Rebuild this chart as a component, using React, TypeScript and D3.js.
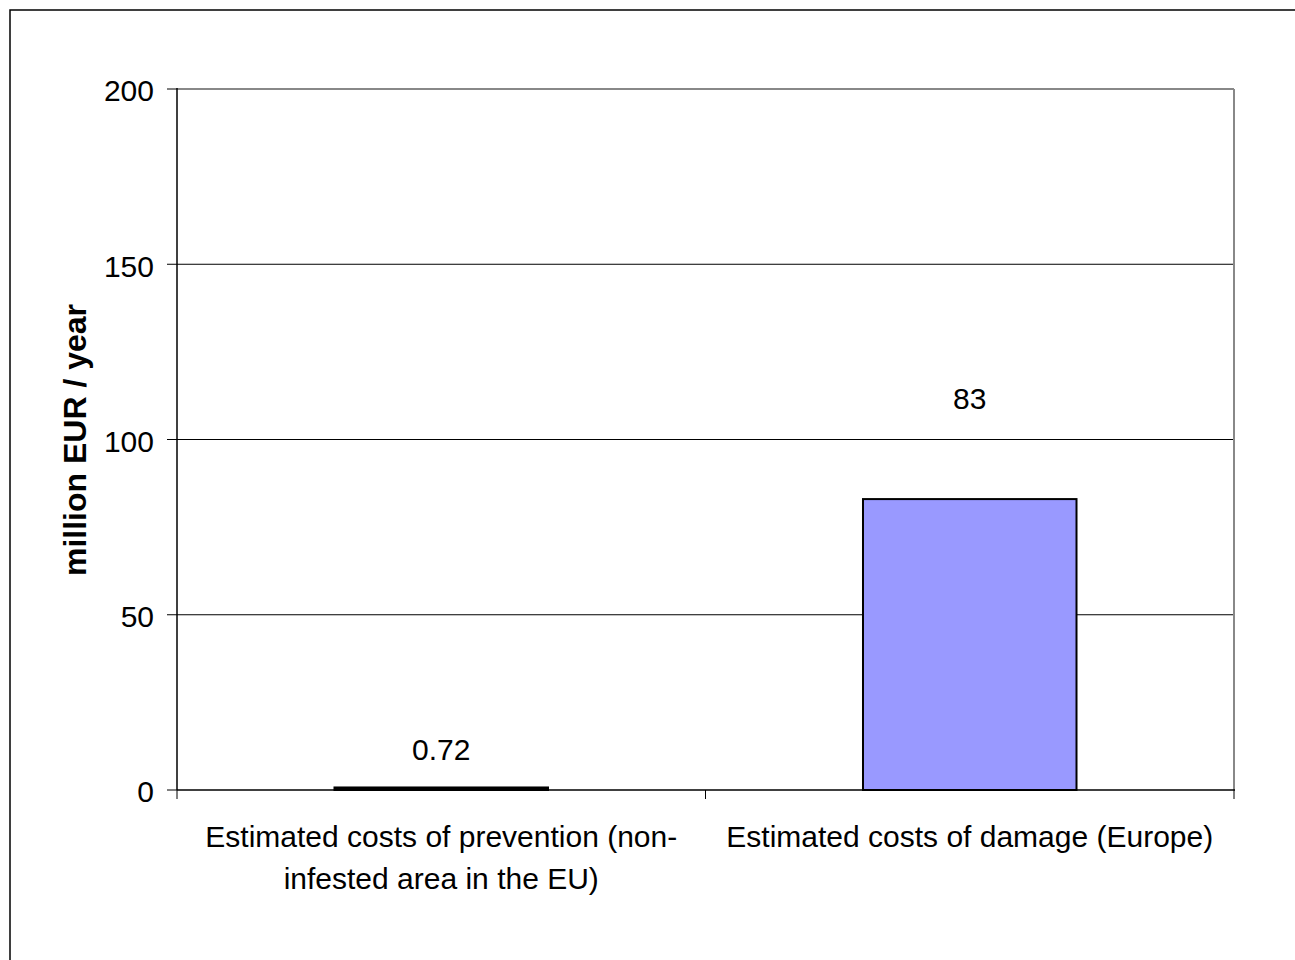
import React from "react";
import * as d3 from "d3";

const categories = [
  ["Estimated costs of prevention (non-", "infested area in the EU)"],
  ["Estimated costs of damage (Europe)"],
];
const values = [0.72, 83];
const valueLabels = ["0.72", "83"];
const yTicks = [0, 50, 100, 150, 200];
const yTitle = "million EUR / year";

export default function App() {
  const W = 1295, H = 960;
  const left = 177, right = 1234, top = 89, bottom = 790;
  const x = d3.scaleBand<number>().domain(values.map((_, i) => i)).range([left, right]).paddingInner(0).paddingOuter(0);
  const y = d3.scaleLinear().domain([0, 200]).range([bottom, top]);
  const bw = x.bandwidth() * 0.404;
  const font = "'Liberation Sans', Arial, sans-serif";
  const labelOffsets = [27, 90];
  return (
    <svg width={W} height={H} style={{ position: "absolute", left: 0, top: 0 }} fontFamily={font}>
      <rect x={0} y={0} width={W} height={H} fill="#fff" />
      <rect x={10} y={10} width={1300} height={1000} fill="none" stroke="#000" strokeWidth={1.5} />
      {yTicks.filter((t) => t > 0 && t < 200).map((t) => (
        <line key={t} x1={left} x2={right} y1={y(t)} y2={y(t)} stroke="#000" strokeWidth={1} />
      ))}
      <line x1={left} x2={right} y1={y(200)} y2={y(200)} stroke="#888" strokeWidth={2} />
      <line x1={right} x2={right} y1={y(200)} y2={bottom} stroke="#888" strokeWidth={2} />
      {values.map((v, i) => {
        const cx = x(i)! + x.bandwidth() / 2;
        return (
          <g key={i}>
            <rect
              x={cx - bw / 2}
              y={y(v)}
              width={bw}
              height={bottom - y(v)}
              fill={i === 0 ? "#000" : "#9999ff"}
              stroke="#000"
              strokeWidth={2}
            />
            <text x={cx} y={y(v) - labelOffsets[i]} textAnchor="middle" fontSize={30} fill="#000">
              {valueLabels[i]}
            </text>
          </g>
        );
      })}
      <line x1={left} x2={left} y1={top - 1} y2={bottom} stroke="#000" strokeWidth={1.5} />
      <line x1={left} x2={right + 1} y1={bottom} y2={bottom} stroke="#000" strokeWidth={1.5} />
      {yTicks.map((t) => (
        <g key={t}>
          <line x1={left - 10} x2={left} y1={y(t)} y2={y(t)} stroke="#000" strokeWidth={1} />
          <text x={left - 23} y={y(t) + 1.5} dy="0.36em" textAnchor="end" fontSize={30} fill="#000">
            {t}
          </text>
        </g>
      ))}
      {[left, ...values.map((_, i) => x(i)! + x.bandwidth())].map((px, i) => (
        <line key={i} x1={px} x2={px} y1={bottom} y2={bottom + 9} stroke="#000" strokeWidth={1} />
      ))}
      {categories.map((lines, i) => {
        const cx = x(i)! + x.bandwidth() / 2;
        return (
          <text key={i} textAnchor="middle" fontSize={30} fill="#000">
            {lines.map((ln, j) => (
              <tspan key={j} x={cx} y={847 + j * 42}>
                {ln}
              </tspan>
            ))}
          </text>
        );
      })}
      <text
        transform={`translate(86, 440) rotate(-90)`}
        textAnchor="middle"
        fontSize={32}
        fontWeight="bold"
        fill="#000"
      >
        {yTitle}
      </text>
    </svg>
  );
}
